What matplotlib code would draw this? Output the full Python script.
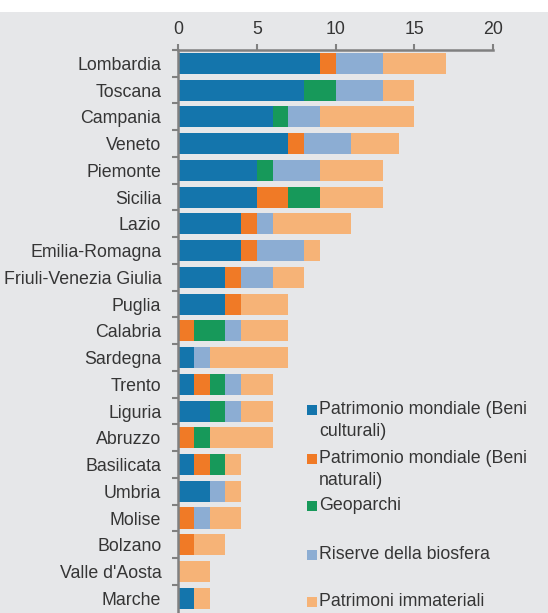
import matplotlib.pyplot as plt
from matplotlib.patches import Rectangle
import numpy as np

plt.rcParams['font.family'] = ['Liberation Sans', 'DejaVu Sans']

# regions, top to bottom
regions = ['Lombardia', 'Toscana', 'Campania', 'Veneto', 'Piemonte', 'Sicilia',
           'Lazio', 'Emilia-Romagna', 'Friuli-Venezia Giulia', 'Puglia',
           'Calabria', 'Sardegna', 'Trento', 'Liguria', 'Abruzzo', 'Basilicata',
           'Umbria', 'Molise', 'Bolzano', "Valle d'Aosta", 'Marche']

beni_culturali = [9, 8, 6, 7, 5, 5, 4, 4, 3, 3, 0, 1, 1, 2, 0, 1, 2, 0, 0, 0, 1]
beni_naturali  = [1, 0, 0, 1, 0, 2, 1, 1, 1, 1, 1, 0, 1, 0, 1, 1, 0, 1, 1, 0, 0]
geoparchi      = [0, 2, 1, 0, 1, 2, 0, 0, 0, 0, 2, 0, 1, 1, 1, 1, 0, 0, 0, 0, 0]
biosfera       = [3, 3, 2, 3, 3, 0, 1, 3, 2, 0, 1, 1, 1, 1, 0, 0, 1, 1, 0, 0, 0]
immateriali    = [4, 2, 6, 3, 4, 4, 5, 1, 2, 3, 3, 5, 2, 2, 4, 1, 1, 2, 2, 2, 1]

series = [beni_culturali, beni_naturali, geoparchi, biosfera, immateriali]
labels = ['Patrimonio mondiale (Beni\nculturali)',
          'Patrimonio mondiale (Beni\nnaturali)',
          'Geoparchi',
          'Riserve della biosfera',
          'Patrimoni immateriali']
colors = ['#1475ac', '#f07a26', '#17995a', '#8cadd3', '#f6b377']

bg = '#e6e7e9'
txt = '#353535'
W, H = 548, 613

fig = plt.figure(figsize=(W / 100, H / 100), dpi=100, facecolor='white')
fig.patches.append(Rectangle((0, 0), 1, 1 - 12 / H, transform=fig.transFigure,
                             facecolor=bg, edgecolor='none', zorder=-10))

ax = fig.add_axes([178 / W, 0, 315 / W, 1 - 50 / H])
ax.set_facecolor(bg)

y = np.arange(len(regions))
left = np.zeros(len(regions))
for vals, col in zip(series, colors):
    ax.barh(y, vals, left=left, height=0.79, color=col, edgecolor='none')
    left += np.array(vals)

ax.set_xlim(0, 20)
ax.set_ylim(20.55, -0.475)
ax.xaxis.tick_top()
ax.set_xticks([0, 5, 10, 15, 20])
ax.tick_params(axis='x', direction='out', length=4, width=1.5, color='#808080',
               labelsize=12.8, labelcolor=txt, pad=5)
ax.set_yticks(y)
ax.set_yticklabels(regions)
ax.tick_params(axis='y', which='major', length=0, labelsize=12.8, labelcolor=txt, pad=12)
ax.set_yticks(np.arange(len(regions)) - 0.5, minor=True)
ax.tick_params(axis='y', which='minor', direction='out', length=4, width=1.5, color='#808080')

for s in ['right', 'bottom']:
    ax.spines[s].set_visible(False)
for s in ['left', 'top']:
    ax.spines[s].set_color('#808080')
    ax.spines[s].set_linewidth(1.8)

# legend drawn by hand to follow the uneven spacing
leg_y = [410, 459, 506, 555, 602]
for ly, lab, col in zip(leg_y, labels, colors):
    fig.patches.append(Rectangle((307 / W, 1 - (ly + 5) / H), 10 / W, 10 / H,
                                 transform=fig.transFigure, facecolor=col,
                                 edgecolor='none'))
    fig.text(319 / W, 1 - (ly - 9) / H, lab, ha='left', va='top', fontsize=12.8,
             color=txt, linespacing=1.4)

fig.savefig('out.png', dpi=100, facecolor=fig.get_facecolor())
